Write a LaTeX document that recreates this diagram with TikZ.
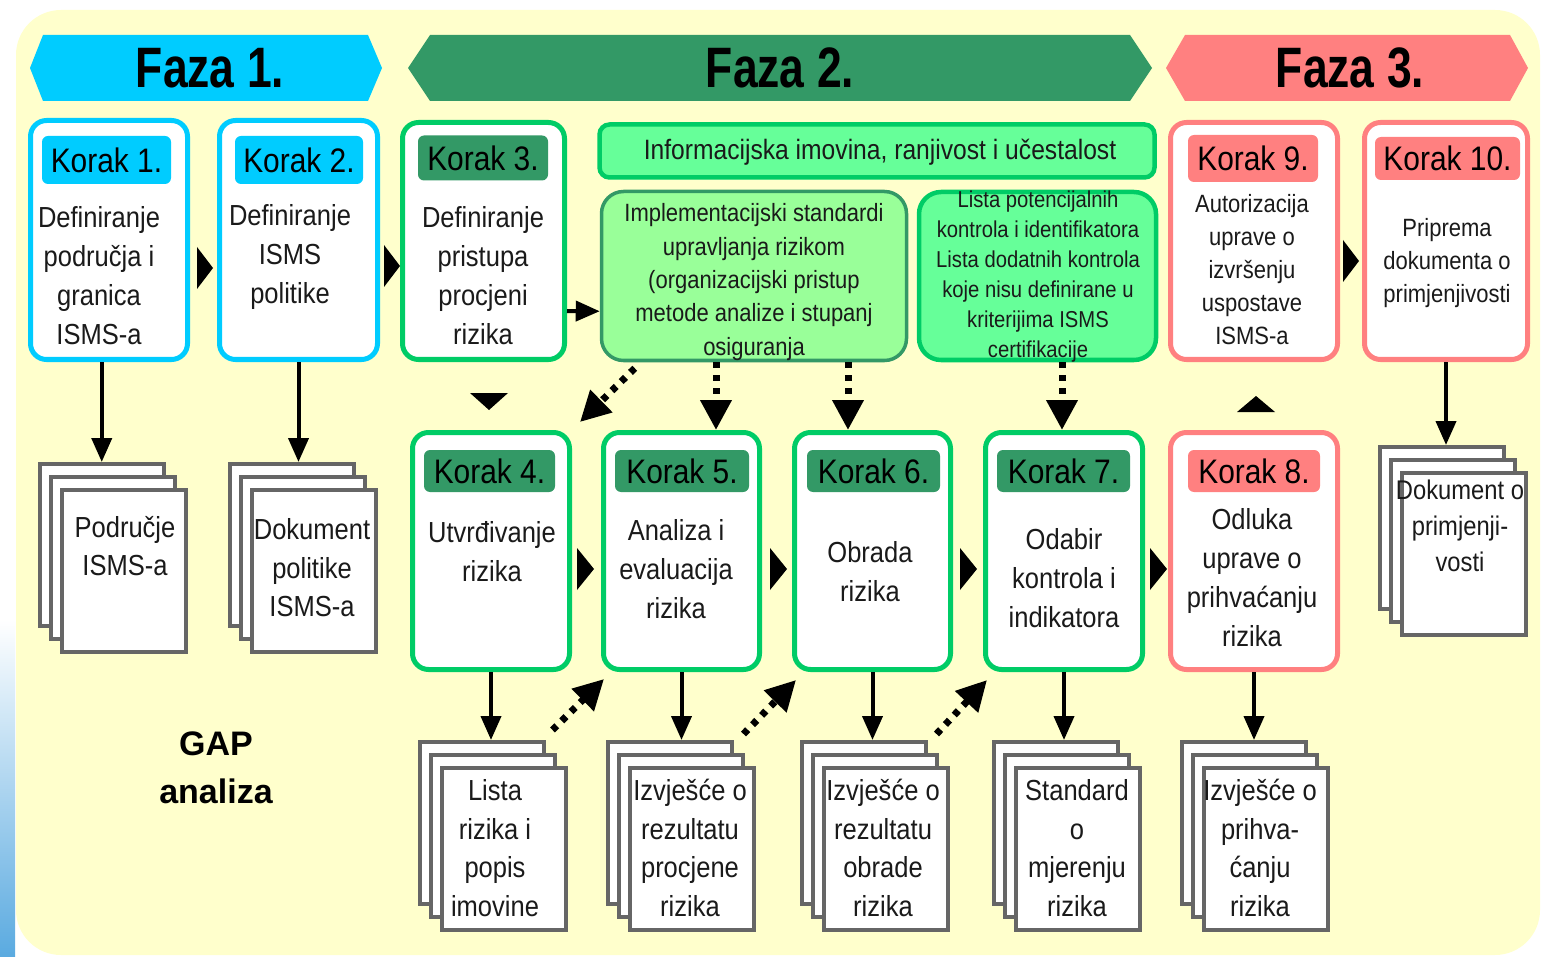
\documentclass[tikz,border=0pt]{standalone}
\usepackage{fontspec}
\newfontfamily\nf[FakeStretch=0.88]{Liberation Sans}
\newfontfamily\ff[FakeStretch=0.78]{Liberation Sans}
\newfontfamily\gf{Liberation Sans}
\usetikzlibrary{arrows.meta,calc}
\definecolor{bgy}{HTML}{FFFFCC}
\definecolor{cyn}{HTML}{00CCFF}
\definecolor{dgr}{HTML}{339966}
\definecolor{bgr}{HTML}{00CC66}
\definecolor{lgr}{HTML}{66FF99}
\definecolor{pgr}{HTML}{99FF99}
\definecolor{sal}{HTML}{FF8080}
\definecolor{shg}{HTML}{666666}
\definecolor{txt}{HTML}{1A1A1A}
\definecolor{lbl}{HTML}{5AAAE0}
\newcommand\dstack[3]{%
  \node[sheet, anchor=north west] (#1a) at (#2,#3) {};
  \node[sheet, anchor=north west] (#1b) at ($(#2,#3)+(11,13)$) {};
  \node[sheet, anchor=north west] (#1) at ($(#2,#3)+(22,26)$) {};
}
\begin{document}
\begin{tikzpicture}[x=1pt,y=-1pt,
  kbox/.style={draw=#1, line width=5pt, fill=white, rounded corners=16pt, inner sep=0pt, minimum height=237},
  klab/.style={fill=#1, rounded corners=6pt, minimum height=45, inner sep=0pt, text=black, font=\nf\fontsize{34}{34}\selectfont},
  btext/.style={align=center, inner sep=0pt, text=txt, font=\nf\fontsize{29}{39}\selectfont},
  stext/.style={align=center, inner sep=0pt, text=txt, font=\nf\fontsize{29}{38.5}\selectfont},
  sheet/.style={draw=shg, fill=white, line width=3.5pt, minimum width=124, minimum height=162, inner sep=0pt},
  arr/.style={line width=4pt, -{Triangle[length=24pt,width=20pt]}},
  dotarr/.style={line width=7pt, dash pattern=on 6pt off 7pt, -{Triangle[length=30pt,width=30pt]}},
  faza/.style={font=\ff\bfseries\fontsize{57}{57}\selectfont, text=black, inner sep=0pt}
]
\useasboundingbox (0,0) rectangle (1544,957);
\fill[white] (0,0) rectangle (1544,957);
\shade[top color=white, middle color=white!75!lbl, bottom color=lbl] (0,620) rectangle (15,957);
\fill[bgy, rounded corners=45pt] (16,10) rectangle (1540,955);

% phase banners
\fill[cyn] (30,68) -- (43,35) -- (368,35) -- (382,68) -- (368,101) -- (43,101) -- cycle;
\fill[dgr] (408,68) -- (430,35) -- (1130,35) -- (1152,68) -- (1130,101) -- (430,101) -- cycle;
\fill[sal] (1166,68) -- (1185,35) -- (1510,35) -- (1528,68) -- (1510,101) -- (1185,101) -- cycle;
\node[faza] (f1) at (210,68) {Faza 1.};
\node[faza] (f2) at (780,68) {Faza 2.};
\node[faza] (f3) at (1350,68) {Faza 3.};

% top row boxes
\node[kbox=cyn, minimum width=157, minimum height=239] (k1) at (109,240) {};
\node[kbox=cyn, minimum width=158, minimum height=239] (k2) at (298.5,240) {};
\node[kbox=bgr, minimum width=162] (k3) at (483.5,241) {};
\node[kbox=sal, minimum width=167] (k9) at (1254,241) {};
\node[kbox=sal, minimum width=163] (k10) at (1446,241) {};

\node[draw=bgr, fill=lgr, line width=4.5pt, rounded corners=10pt, minimum width=555, minimum height=53, inner sep=0pt] (info) at (877,151) {};
\node[draw=dgr, fill=pgr, line width=3.5pt, rounded corners=22pt, minimum width=305, minimum height=169, inner sep=0pt] (impl) at (754,276) {};
\node[draw=bgr, fill=lgr, line width=4.5pt, rounded corners=22pt, minimum width=237, minimum height=168, inner sep=0pt] (lista) at (1037.5,276) {};

% bottom row boxes
\node[kbox=bgr, minimum width=157] (k4) at (491,551) {};
\node[kbox=bgr, minimum width=156] (k5) at (681.5,551) {};
\node[kbox=bgr, minimum width=156] (k6) at (872.5,551) {};
\node[kbox=bgr, minimum width=157] (k7) at (1064,551) {};
\node[kbox=sal, minimum width=167] (k8) at (1254,551) {};

% labels
\node[klab=cyn, minimum width=129, minimum height=48] (l1) at (106.5,160) {Korak 1.};
\node[klab=cyn, minimum width=128, minimum height=48] (l2) at (299,160) {Korak 2.};
\node[klab=dgr, minimum width=130] (l3) at (483,158) {Korak 3.};
\node[klab=dgr, minimum width=131, minimum height=42] (l4) at (489.5,471) {Korak 4.};
\node[klab=dgr, minimum width=134, minimum height=42] (l5) at (682,471) {Korak 5.};
\node[klab=dgr, minimum width=133, minimum height=42] (l6) at (873.5,471) {Korak 6.};
\node[klab=dgr, minimum width=133, minimum height=42] (l7) at (1063.5,471) {Korak 7.};
\node[klab=sal, minimum width=132, minimum height=42] (l8) at (1254,471) {Korak 8.};
\node[klab=sal, minimum width=130, minimum height=47] (l9) at (1253,158.5) {Korak 9.};
\node[klab=sal, minimum width=145, minimum height=43] (l10) at (1447.5,158.5) {Korak 10.};

% body texts
\node[btext] (t1) at (99,276) {Definiranje\\područja i\\granica\\ISMS-a};
\node[btext] (t2) at (290,257) {Definiranje\\ISMS\\politike};
\node[btext] (t3) at (483,276) {Definiranje\\pristupa\\procjeni\\rizika};
\node[btext] (t4) at (492,552) {Utvrđivanje\\rizika};
\node[btext] (t5) at (676,569) {Analiza i\\evaluacija\\rizika};
\node[btext] (t6) at (870,572) {Obrada\\rizika};
\node[btext] (t7) at (1064,578) {Odabir\\kontrola i\\indikatora};
\node[btext] (t8) at (1252,578) {Odluka\\uprave o\\prihvaćanju\\rizika};
\node[btext, font=\nf\fontsize{25}{33}\selectfont] (t9) at (1252,270) {Autorizacija\\uprave o\\izvršenju\\uspostave\\ISMS-a};
\node[btext, font=\nf\fontsize{25}{33}\selectfont] (t10) at (1447,263) {Priprema\\dokumenta o\\primjenjivosti};
\node[btext, font=\nf\fontsize{28}{28}\selectfont] (tinfo) at (880,152) {Informacijska imovina, ranjivost i učestalost};
\node[btext, font=\nf\fontsize{25}{33.3}\selectfont] (timpl) at (754,282) {Implementacijski standardi\\upravljanja rizikom\\(organizacijski pristup\\metode analize i stupanj\\osiguranja};
\node[btext, font=\nf\fontsize{23}{30}\selectfont] (tlista) at (1038,277) {Lista potencijalnih\\kontrola i identifikatora\\Lista dodatnih kontrola\\koje nisu definirane u\\kriterijima ISMS\\certifikacije};

% document stacks
\dstack{s1}{38}{462}
\dstack{s2}{228}{462}
\dstack{s4}{418}{740}
\dstack{s5}{606}{740}
\dstack{s6}{800}{740}
\dstack{s7}{992}{740}
\dstack{s8}{1180}{740}
\dstack{s10}{1378}{445}

\node[stext] (d1) at (125,546) {Područje\\ISMS-a};
\node[stext] (d2) at (312,568) {Dokument\\politike\\ISMS-a};
\node[stext] (d4) at (495,848) {Lista\\rizika i\\popis\\imovine};
\node[stext] (d5) at (690,848) {Izvješće o\\rezultatu\\procjene\\rizika};
\node[stext] (d6) at (883,848) {Izvješće o\\rezultatu\\obrade\\rizika};
\node[stext] (d7) at (1077,848) {Standard\\o\\mjerenju\\rizika};
\node[stext] (d8) at (1260,848) {Izvješće o\\prihva-\\ćanju\\rizika};
\node[stext, font=\nf\fontsize{27}{36}\selectfont] (d10) at (1460,526) {Dokument o\\primjenji-\\vosti};

\node[align=center, inner sep=0pt, font=\gf\bfseries\fontsize{34}{48}\selectfont] (gap) at (216,768) {GAP\\analiza};

% solid arrows
\draw[arr] (k1.south -| s1a.north) -- (s1a.north);
\draw[arr] (k2.south) -- (k2.south |- s2a.north);
\draw[arr] (k4.south) -- (k4.south |- s4a.north);
\draw[arr] (k5.south) -- (k5.south |- s5a.north);
\draw[arr] (k6.south) -- (k6.south |- s6a.north);
\draw[arr] (k7.south) -- (k7.south |- s7a.north);
\draw[arr] (k8.south) -- (k8.south |- s8a.north);
\draw[arr] (k10.south) -- (k10.south |- s10a.north);
\draw[arr] ($(k3.south east)+(0,-51)$) -- ($(impl.south west)+(0,-51)$);

% dotted arrows
\coordinate (c5) at (716,0);
\coordinate (c6) at (848,0);
\coordinate (c7) at (1062,0);
\draw[dotarr] ($(impl.south west)+(35,6)$) -- ($(k4.north east)+(8,-8)$);
\draw[dotarr] (impl.south -| c5) -- (k5.north -| c5);
\draw[dotarr] (impl.south -| c6) -- (k6.north -| c6);
\draw[dotarr] (lista.south -| c7) -- (k7.north -| c7);
\draw[dotarr] ($(s4a.north east)+(7,-10)$) -- ($(k5.south west)+(3,7)$);
\draw[dotarr] ($(s5a.north east)+(10,-6)$) -- ($(k6.south west)+(4,8)$);
\draw[dotarr] ($(s6a.north east)+(9,-6)$) -- ($(k7.south west)+(4,8)$);

% flow triangles
\fill (197,247) -- (213,268) -- (197,289) -- cycle;
\fill (384,245) -- (400,266) -- (384,287) -- cycle;
\fill (1343,240) -- (1359,261) -- (1343,282) -- cycle;
\fill (577,548) -- (594,569) -- (577,590) -- cycle;
\fill (770,548) -- (787,569) -- (770,590) -- cycle;
\fill (960,548) -- (977,569) -- (960,590) -- cycle;
\fill (1150,548) -- (1167,569) -- (1150,590) -- cycle;
\fill (470,393) -- (508,393) -- (489,410) -- cycle;
\fill (1237,412) -- (1275,412) -- (1256,396) -- cycle;
\end{tikzpicture}
\end{document}
